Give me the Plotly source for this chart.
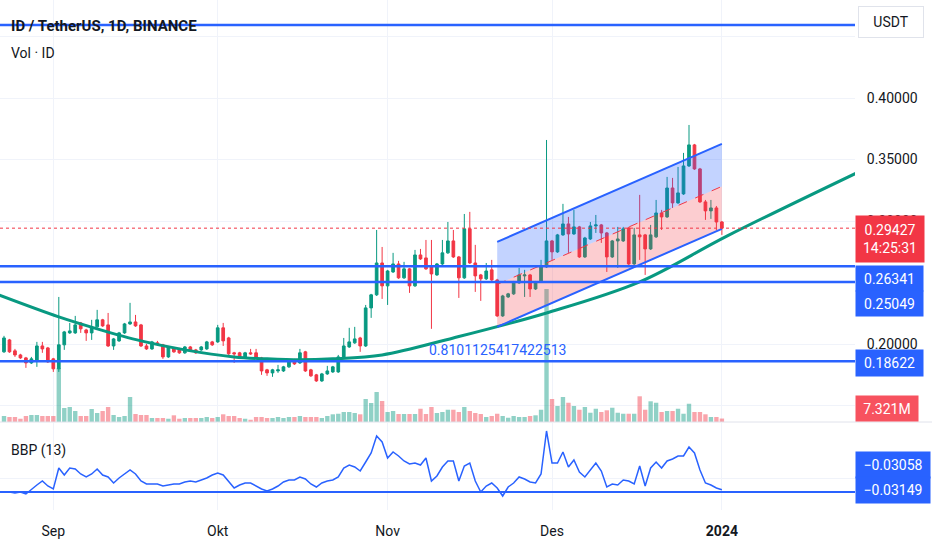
import pandas as pd
import plotly.graph_objects as go

# daily candles, 23 Aug 2023 .. 1 Jan 2024
dates = pd.date_range("2023-08-23", periods=132, freq="D")

open_ = [
    0.1938, 0.2035, 0.1946, 0.1913, 0.1889, 0.1848, 0.1865, 0.1986, 0.1970, 0.1881,
    0.1800, 0.1995, 0.2092, 0.2092, 0.2173, 0.2116, 0.2092, 0.2141, 0.2198, 0.2157,
    0.1986, 0.2027, 0.2092, 0.2165, 0.2181, 0.2157, 0.1986, 0.1962, 0.2011, 0.1995,
    0.1897, 0.1970, 0.1962, 0.1930, 0.1978, 0.1954, 0.1954, 0.1962, 0.2019, 0.2019,
    0.2133, 0.2051, 0.1930, 0.1930, 0.1889, 0.1930, 0.1930, 0.1889, 0.1792, 0.1767,
    0.1783, 0.1783, 0.1816, 0.1873, 0.1848, 0.1938, 0.1792, 0.1751, 0.1702, 0.1759,
    0.1775, 0.1775, 0.1897, 0.1978, 0.2011, 0.2051, 0.1986, 0.2295, 0.2401, 0.2660,
    0.2474, 0.2587, 0.2652, 0.2539, 0.2612, 0.2474, 0.2725, 0.2701, 0.2628, 0.2563,
    0.2652, 0.2742, 0.2839, 0.2709, 0.2539, 0.2937, 0.2660, 0.2563, 0.2531, 0.2604,
    0.2522, 0.2230, 0.2384, 0.2409, 0.2498, 0.2555, 0.2563, 0.2449, 0.2506, 0.2628,
    0.2839, 0.2750, 0.2888, 0.2977, 0.2896, 0.2953, 0.2709, 0.2855, 0.2961, 0.2969,
    0.2904, 0.2709, 0.2839, 0.2839, 0.2945, 0.2652, 0.2888, 0.2888, 0.2774, 0.2872,
    0.3066, 0.3034, 0.3269, 0.3148, 0.3221, 0.3448, 0.3619, 0.3424, 0.3156, 0.3083,
    0.3107, 0.2993,
]
high = [
    0.2068, 0.2043, 0.1962, 0.1922, 0.1897, 0.1897, 0.2019, 0.2019, 0.1978, 0.1889,
    0.2384, 0.2108, 0.2173, 0.2230, 0.2181, 0.2125, 0.2198, 0.2279, 0.2206, 0.2254,
    0.2051, 0.2100, 0.2173, 0.2336, 0.2238, 0.2165, 0.2003, 0.2027, 0.2027, 0.2003,
    0.1986, 0.1978, 0.1970, 0.1986, 0.1986, 0.1962, 0.1986, 0.2027, 0.2027, 0.2157,
    0.2173, 0.2060, 0.1938, 0.1938, 0.1938, 0.1962, 0.1962, 0.1897, 0.1800, 0.1800,
    0.1832, 0.1824, 0.1873, 0.1881, 0.1962, 0.1946, 0.1800, 0.1759, 0.1767, 0.1824,
    0.1824, 0.1913, 0.2051, 0.2133, 0.2141, 0.2060, 0.2319, 0.2409, 0.2928, 0.2790,
    0.2604, 0.2742, 0.2677, 0.2669, 0.2620, 0.2766, 0.2774, 0.2847, 0.2847, 0.2660,
    0.2847, 0.2993, 0.2928, 0.2717, 0.3058, 0.3075, 0.2807, 0.2571, 0.2660, 0.2685,
    0.2531, 0.2401, 0.2417, 0.2514, 0.2620, 0.2604, 0.2571, 0.2514, 0.2685, 0.3659,
    0.2847, 0.2896, 0.3140, 0.3034, 0.3091, 0.2961, 0.2872, 0.2993, 0.3050, 0.2977,
    0.2912, 0.2847, 0.2953, 0.2953, 0.2953, 0.2945, 0.3213, 0.2896, 0.2969, 0.3172,
    0.3091, 0.3359, 0.3351, 0.3440, 0.3554, 0.3781, 0.3627, 0.3432, 0.3172, 0.3172,
    0.3123, 0.3001,
]
low = [
    0.1930, 0.1930, 0.1897, 0.1881, 0.1808, 0.1840, 0.1816, 0.1930, 0.1848, 0.1775,
    0.1775, 0.1954, 0.2084, 0.2084, 0.2092, 0.2027, 0.2035, 0.2133, 0.2141, 0.1978,
    0.1954, 0.2019, 0.2084, 0.2157, 0.2141, 0.1978, 0.1954, 0.1954, 0.1986, 0.1881,
    0.1889, 0.1930, 0.1922, 0.1922, 0.1938, 0.1922, 0.1946, 0.1954, 0.1986, 0.2011,
    0.1986, 0.1913, 0.1848, 0.1881, 0.1881, 0.1913, 0.1881, 0.1751, 0.1743, 0.1735,
    0.1767, 0.1775, 0.1808, 0.1832, 0.1840, 0.1775, 0.1735, 0.1694, 0.1694, 0.1751,
    0.1767, 0.1767, 0.1889, 0.1970, 0.2003, 0.1938, 0.1978, 0.2214, 0.2392, 0.2368,
    0.2319, 0.2579, 0.2531, 0.2531, 0.2417, 0.2466, 0.2685, 0.2604, 0.2125, 0.2555,
    0.2644, 0.2734, 0.2701, 0.2376, 0.2531, 0.2652, 0.2425, 0.2352, 0.2522, 0.2514,
    0.2222, 0.2222, 0.2376, 0.2401, 0.2490, 0.2384, 0.2384, 0.2441, 0.2498, 0.2620,
    0.2685, 0.2742, 0.2880, 0.2742, 0.2888, 0.2701, 0.2701, 0.2847, 0.2904, 0.2823,
    0.2587, 0.2701, 0.2620, 0.2831, 0.2628, 0.2644, 0.2685, 0.2563, 0.2766, 0.2863,
    0.2928, 0.3026, 0.3107, 0.3140, 0.3213, 0.3440, 0.3416, 0.3148, 0.3010, 0.3018,
    0.2928, 0.2888,
]
close = [
    0.2051, 0.1938, 0.1913, 0.1889, 0.1848, 0.1881, 0.1986, 0.1962, 0.1857, 0.1800,
    0.1995, 0.2100, 0.2108, 0.2157, 0.2125, 0.2092, 0.2133, 0.2198, 0.2149, 0.1986,
    0.2043, 0.2092, 0.2165, 0.2181, 0.2149, 0.1986, 0.1962, 0.2019, 0.2003, 0.1897,
    0.1978, 0.1938, 0.1930, 0.1978, 0.1946, 0.1930, 0.1978, 0.2019, 0.1995, 0.2133,
    0.2027, 0.1922, 0.1922, 0.1889, 0.1930, 0.1922, 0.1889, 0.1783, 0.1767, 0.1792,
    0.1792, 0.1816, 0.1865, 0.1840, 0.1930, 0.1783, 0.1743, 0.1702, 0.1759, 0.1783,
    0.1816, 0.1897, 0.1986, 0.2019, 0.2043, 0.1986, 0.2295, 0.2401, 0.2660, 0.2474,
    0.2595, 0.2652, 0.2539, 0.2612, 0.2474, 0.2725, 0.2693, 0.2612, 0.2571, 0.2652,
    0.2742, 0.2839, 0.2709, 0.2539, 0.2937, 0.2660, 0.2555, 0.2531, 0.2595, 0.2522,
    0.2230, 0.2392, 0.2409, 0.2506, 0.2563, 0.2563, 0.2449, 0.2506, 0.2628, 0.2839,
    0.2750, 0.2888, 0.2977, 0.2896, 0.2953, 0.2709, 0.2863, 0.2961, 0.2969, 0.2904,
    0.2709, 0.2839, 0.2855, 0.2937, 0.2652, 0.2888, 0.2872, 0.2774, 0.2888, 0.3066,
    0.3034, 0.3269, 0.3148, 0.3229, 0.3448, 0.3619, 0.3424, 0.3156, 0.3083, 0.3107,
    0.2993, 0.29427,
]
# volume in millions of ID
volume_m = [
    12.6, 10.5, 10.5, 6.9, 12.6, 14.7, 14.7, 12.6, 12.6, 12.6,
    113.4, 29.4, 31.5, 23.1, 12.6, 12.6, 27.3, 18.9, 23.1, 31.5,
    14.7, 10.5, 12.6, 52.5, 16.8, 14.7, 14.7, 8.4, 8.4, 8.4,
    6.9, 14.1, 6.9, 8.4, 8.4, 8.4, 8.4, 10.5, 8.4, 10.5,
    16.2, 12.6, 12.6, 8.4, 6.9, 4.8, 10.5, 10.5, 8.4, 8.4,
    10.5, 8.4, 10.5, 10.5, 12.6, 10.5, 10.5, 10.5, 8.4, 12.6,
    16.2, 17.4, 21.0, 21.0, 18.9, 16.2, 48.3, 39.9, 63.0, 44.1,
    21.0, 23.1, 16.8, 16.8, 16.8, 16.8, 27.9, 16.8, 31.5, 18.9,
    21.0, 25.8, 25.8, 21.0, 31.5, 23.1, 18.9, 16.8, 10.5, 12.6,
    17.4, 12.6, 9.0, 12.6, 10.5, 10.5, 12.6, 14.1, 25.8, 279.3,
    48.3, 33.6, 52.5, 40.5, 33.6, 25.8, 31.5, 19.5, 27.9, 21.0,
    24.6, 30.0, 19.5, 17.4, 17.4, 17.4, 54.0, 25.8, 43.5, 40.5,
    21.0, 23.1, 23.1, 27.9, 17.4, 38.4, 21.0, 21.0, 16.2, 10.5,
    10.5, 7.321,
]
# bull bear power (13)
bbp = [
    -0.0315, -0.0315, -0.0319, -0.0315, -0.0323, -0.0303, -0.0287, -0.0271, -0.0291, -0.0303,
    -0.0219, -0.0247, -0.0219, -0.0223, -0.0243, -0.0255, -0.0243, -0.0223, -0.0247, -0.0255,
    -0.0279, -0.0259, -0.0243, -0.0227, -0.0243, -0.0271, -0.0283, -0.0283, -0.0283, -0.0291,
    -0.0287, -0.0283, -0.0283, -0.0275, -0.0271, -0.0275, -0.0267, -0.0259, -0.0247, -0.0239,
    -0.0247, -0.0275, -0.0299, -0.0287, -0.0279, -0.0279, -0.0291, -0.0303, -0.0311, -0.0303,
    -0.0291, -0.0275, -0.0267, -0.0267, -0.0255, -0.0263, -0.0283, -0.0295, -0.0279, -0.0271,
    -0.0267, -0.0255, -0.0219, -0.0207, -0.0215, -0.0231, -0.0195, -0.0159, -0.0091, -0.0115,
    -0.0179, -0.0155, -0.0171, -0.0191, -0.0203, -0.0199, -0.0207, -0.0179, -0.0271, -0.0251,
    -0.0215, -0.0191, -0.0191, -0.0271, -0.0211, -0.0199, -0.0271, -0.0315, -0.0291, -0.0279,
    -0.0299, -0.0331, -0.0295, -0.0279, -0.0255, -0.0263, -0.0275, -0.0279, -0.0243, -0.0071,
    -0.0199, -0.0199, -0.0155, -0.0215, -0.0187, -0.0235, -0.0255, -0.0227, -0.0199, -0.0231,
    -0.0295, -0.0283, -0.0287, -0.0267, -0.0271, -0.0283, -0.0211, -0.0291, -0.0219, -0.0195,
    -0.0219, -0.0191, -0.0183, -0.0171, -0.0171, -0.0135, -0.0159, -0.0227, -0.0279, -0.0287,
    -0.0299, -0.03058,
]

last_price = 0.29427
level_prices = [0.4593, 0.26341, 0.25049, 0.18622]
bbp_level = -0.03149

# parallel channel drawing
channel_dates = ["2023-11-21", "2024-01-01"]
channel_upper = [0.2831, 0.3627]
channel_lower = [0.2141, 0.2937]
channel_mid = [(u + l) / 2 for u, l in zip(channel_upper, channel_lower)]

# arc drawing
arc_dates = ["2023-08-22", "2023-09-02", "2023-09-09", "2023-09-17", "2023-09-25",
             "2023-10-04", "2023-10-10", "2023-10-16", "2023-10-22", "2023-10-31",
             "2023-11-13", "2023-11-30", "2023-12-17", "2024-01-02", "2024-01-26"]
arc_prices = [0.2401, 0.2222, 0.2125, 0.2027, 0.1954, 0.1897, 0.1881, 0.1873, 0.1881,
              0.1913, 0.2051, 0.2254, 0.2506, 0.2880, 0.3400]
arc_label = "0.8101125417422513"

month_ticks = ["2023-09-01", "2023-10-01", "2023-11-01", "2023-12-01", "2024-01-01"]
month_labels = ["Sep", "Okt", "Nov", "Des", "<b>2024</b>"]
price_ticks = [0.15, 0.20, 0.25, 0.30, 0.35, 0.40, 0.45]
shown_ticks = [0.20, 0.30, 0.35, 0.40]  # the others sit fully behind the labels

UP = "#089981"
DOWN = "#f23645"
BLUE = "#2962ff"
TEXT = "#131722"
GRID = "#f0f3fa"
FONT = "Roboto"

vol_colors = ["rgba(8,153,129,0.45)" if c >= o else "rgba(242,54,69,0.45)"
              for o, c in zip(open_, close)]

fig = go.Figure()

fig.add_trace(go.Bar(x=dates, y=volume_m, marker=dict(color=vol_colors, line_width=0),
                     xaxis="x", yaxis="y"))

fig.add_trace(go.Scatter(x=arc_dates, y=arc_prices, mode="lines",
                         line=dict(color=UP, width=3, shape="spline"), yaxis="y2"))

fig.add_trace(go.Scatter(x=channel_dates, y=channel_upper, mode="lines",
                         line=dict(color=BLUE, width=2), yaxis="y2"))
fig.add_trace(go.Scatter(x=channel_dates, y=channel_mid, mode="lines", fill="tonexty",
                         fillcolor="rgba(41,98,255,0.28)",
                         line=dict(color=DOWN, width=1, dash="dash"), yaxis="y2"))
fig.add_trace(go.Scatter(x=channel_dates, y=channel_lower, mode="lines", fill="tonexty",
                         fillcolor="rgba(242,54,69,0.25)",
                         line=dict(color=BLUE, width=2), yaxis="y2"))

fig.add_trace(go.Candlestick(
    x=dates, open=open_, high=high, low=low, close=close,
    increasing=dict(line=dict(color=UP, width=1), fillcolor=UP),
    decreasing=dict(line=dict(color=DOWN, width=1), fillcolor=DOWN),
    whiskerwidth=0, yaxis="y2"))

fig.add_trace(go.Scatter(x=dates, y=bbp, mode="lines", line=dict(color=BLUE, width=1.5),
                         yaxis="y3"))

# horizontal levels
for p in level_prices:
    fig.add_shape(type="line", xref="paper", x0=0, x1=1, yref="y2", y0=p, y1=p,
                  line=dict(color=BLUE, width=2.5))
fig.add_shape(type="line", xref="paper", x0=0, x1=1, yref="y2", y0=last_price, y1=last_price,
              line=dict(color=DOWN, width=1, dash="dot"))
fig.add_shape(type="line", xref="paper", x0=0, x1=1, yref="y3", y0=bbp_level, y1=bbp_level,
              line=dict(color=BLUE, width=2))
# pane separator
fig.add_shape(type="line", xref="paper", x0=0, x1=1.1, yref="paper", y0=0.1725, y1=0.1725,
              line=dict(color="#e0e3eb", width=1))

ann = []
ann.append(dict(text="<b>ID / TetherUS, 1D, BINANCE</b>", xref="paper", yref="paper",
                x=0.0105, y=0.949, xanchor="left", yanchor="middle", showarrow=False,
                font=dict(family=FONT, size=15, color=TEXT)))
ann.append(dict(text="Vol · ID", xref="paper", yref="paper", x=0.0105, y=0.896,
                xanchor="left", yanchor="middle", showarrow=False,
                font=dict(family=FONT, size=14, color=TEXT)))
ann.append(dict(text="BBP (13)", xref="paper", yref="paper", x=0.0105, y=0.1157,
                xanchor="left", yanchor="middle", showarrow=False,
                font=dict(family=FONT, size=14, color=TEXT)))
ann.append(dict(text=arc_label, xref="x", yref="y2", x="2023-11-21", y=0.1954,
                xanchor="center", yanchor="middle", showarrow=False,
                font=dict(family=FONT, size=14, color=BLUE)))

# right scale labels
def box(text, y, yref, bg, fg="white", yshift=0, h=24, w=66, border=None):
    d = dict(text=text, xref="paper", x=1, xanchor="left", xshift=0, yref=yref, y=y,
             yanchor="middle", yshift=yshift, showarrow=False, bgcolor=bg,
             width=w, height=h, borderpad=0, align="center", valign="middle",
             font=dict(family=FONT, size=14, color=fg))
    if border:
        d.update(bordercolor=border, borderwidth=1)
    return d

ann.append(box("USDT", 0.957, "paper", "white", fg=TEXT, h=30, w=64, border="#e0e3eb"))
ann[-1]["xshift"] = 3
ann.append(box(f"{last_price:.5f}<br>14:25:31", last_price, "y2", DOWN, yshift=-11, h=46, w=68))
ann.append(box(f"{level_prices[1]:.5f}", level_prices[1], "y2", BLUE, yshift=-12, h=25, w=67))
ann.append(box(f"{level_prices[2]:.5f}", level_prices[2], "y2", BLUE, yshift=-21, h=25, w=67))
ann.append(box(f"{level_prices[3]:.5f}", level_prices[3], "y2", BLUE, yshift=-2, h=26, w=67))
ann.append(box(f"{volume_m[-1]:.3f}M", 0.2, "paper", "#f7525f", h=25, w=62))
ann.append(box(f"{bbp[-1]:.5f}".replace("-", "−"), 0.0882, "paper", BLUE, h=26, w=74))
ann.append(box(f"{bbp_level:.5f}".replace("-", "−"), 0.0392, "paper", BLUE, h=26, w=74))

fig.update_layout(
    width=932, height=550,
    margin=dict(l=0, r=77, t=0, b=40),
    paper_bgcolor="white", plot_bgcolor="white",
    showlegend=False, bargap=0.2,
    font=dict(family=FONT, size=14, color=TEXT),
    annotations=ann,
    xaxis=dict(domain=[0, 1], anchor="y3", type="date",
               range=["2023-08-22 06:30", "2024-01-25 07:00"],
               rangeslider=dict(visible=False),
               tickvals=month_ticks, ticktext=month_labels,
               showgrid=True, gridcolor=GRID, zeroline=False, showline=False,
               ticks="outside", ticklen=8, tickcolor="rgba(0,0,0,0)",
               tickfont=dict(family=FONT, size=14, color=TEXT)),
    yaxis=dict(domain=[0.1725, 1], anchor="x", range=[0, 886], visible=False,
               showgrid=False, zeroline=False),
    yaxis2=dict(overlaying="y", anchor="x", side="right",
                range=[0.1368, 0.4796],
                tickvals=price_ticks,
                ticktext=[f"{v:.5f}" if v in shown_ticks else "" for v in price_ticks],
                showgrid=True, gridcolor=GRID, zeroline=False, showline=False,
                ticks="outside", ticklen=8, tickcolor="rgba(0,0,0,0)",
                tickfont=dict(family=FONT, size=14, color=TEXT)),
    yaxis3=dict(domain=[0, 0.1706], anchor="x", side="right",
                range=[-0.0387, -0.0039], tickvals=[-0.0263], showticklabels=False,
                showgrid=True, gridcolor=GRID, zeroline=False, showline=False),
)

# the page's default body margin would shift the chart by 8px
fig.write_html("out.html", config={"displayModeBar": False},
               post_script="document.body.style.margin = '0';")
